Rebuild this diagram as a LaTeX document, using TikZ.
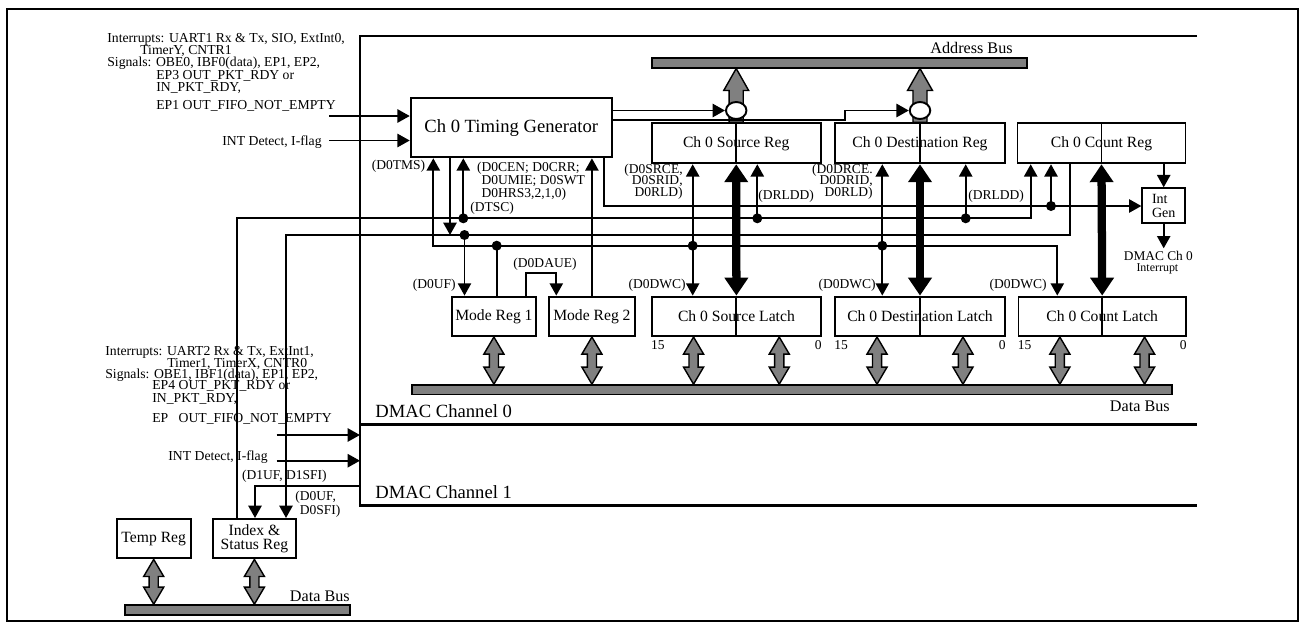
\documentclass[tikz,border=0pt]{standalone}
\usepackage{fontspec}
\setmainfont{Liberation Serif}
\usetikzlibrary{arrows.meta,calc,shapes.geometric}
\definecolor{Ink}{HTML}{000000}
\definecolor{BusGray}{HTML}{808080}

\begin{document}
\begin{tikzpicture}[x=0.02cm,y=-0.02cm,>={Triangle[length=7pt,width=7.5pt]},
  sig/.style={Ink,line width=1.1pt},
  chan/.style={Ink,line width=1.7pt},
  box/.style={draw=Ink,line width=1.1pt,fill=white,inner sep=0pt,minimum height=0.79cm,font=\fontsize{8.9}{10}\selectfont},
  bus/.style={draw=Ink,fill=BusGray,line width=0.9pt,inner sep=0pt,minimum height=0.19cm},
  lbl/.style={inner sep=0pt,font=\fontsize{7.7}{6.8}\selectfont},
  txt/.style={inner sep=0pt,anchor=west,font=\fontsize{7.8}{9}\selectfont},
  head/.style={inner sep=0pt,font=\fontsize{10.6}{12}\selectfont},
  datapath/.style={Ink,line width=4.7pt,arrows={Triangle[length=10.2pt,width=13pt]-Triangle[length=10.2pt,width=13pt]}},
  busarrow/.style={draw=Ink,fill=BusGray,line width=0.8pt,line join=miter,
    to path={let \p1=(\tikztostart),\p2=(\tikztotarget) in
      -- (\x1+5.7pt,\y1-9.7pt) -- (\x1+2.6pt,\y1-9.7pt) -- (\x1+2.6pt,\y2+9.7pt)
      -- (\x1+5.7pt,\y2+9.7pt) -- (\x1,\y2) -- (\x1-5.7pt,\y2+9.7pt)
      -- (\x1-2.6pt,\y2+9.7pt) -- (\x1-2.6pt,\y1-9.7pt) -- (\x1-5.7pt,\y1-9.7pt) -- cycle}},
  addrarrow/.style={draw=Ink,fill=BusGray,line width=0.8pt,line join=miter,
    to path={let \p1=(\tikztostart),\p2=(\tikztotarget) in
      -- (\x1+4pt,\y1) -- (\x1+4pt,\y2-12.5pt) -- (\x1+7.1pt,\y2-12.5pt) -- (\x1,\y2)
      -- (\x1-7.1pt,\y2-12.5pt) -- (\x1-4pt,\y2-12.5pt) -- (\x1-4pt,\y1) -- cycle}}]
\useasboundingbox (0,0) rectangle (1305,623);

% frames of the two channels
\draw[Ink,line width=1.1pt] (7,9) rectangle (1298,621);
\coordinate (chw) at (360,36);
\draw[chan] (1197,36) -- (chw) -- (360,505) -- (1197,505);
\draw[chan] (360,424.5) -- (1197,424.5);

% buses
\node[bus,minimum width=7.51cm] (abus) at (839.5,63) {};
\node[bus,minimum width=15.21cm] (dbus0) at (792,389.7) {};
\node[bus,minimum width=4.5cm,minimum height=0.2cm] (dbus1) at (237.5,610) {};
\node[anchor=east,inner sep=0pt,font=\fontsize{9.2}{10}\selectfont] (labus) at (1013,48) {Address Bus};
\node[anchor=east,inner sep=0pt,font=\fontsize{9.2}{10}\selectfont] (ldbus0) at (1170,406) {Data Bus};
\node[anchor=east,inner sep=0pt,font=\fontsize{9.2}{10}\selectfont] (ldbus1) at (350,596) {Data Bus};

% registers
\node[box,minimum width=4.02cm,minimum height=1.18cm,font=\fontsize{10.6}{12}\selectfont] (tgen) at (511.2,127.8) {Ch 0 Timing Generator};
\node[box,minimum width=3.38cm,minimum height=0.80cm] (srcreg) at (736.2,143.3) {Ch 0 Source Reg};
\node[box,minimum width=3.40cm,minimum height=0.80cm] (dstreg) at (920,143.3) {Ch 0 Destination Reg};
\node[box,minimum width=3.36cm,minimum height=0.80cm] (cntreg) at (1101.5,143.3) {Ch 0 Count Reg};
\node[box,minimum width=0.854cm,minimum height=0.69cm,align=left,font=\fontsize{8}{8}\selectfont] (intgen) at (1163.7,205.5) {Int\\Gen};
\node[box,minimum width=1.69cm] (mode1) at (493.9,316.3) {Mode Reg 1};
\node[box,minimum width=1.73cm] (mode2) at (591.9,316.3) {Mode Reg 2};
\node[box,minimum width=3.39cm] (srclatch) at (736.4,316.3) {Ch 0 Source Latch};
\node[box,minimum width=3.40cm] (dstlatch) at (920,316.3) {Ch 0 Destination Latch};
\node[box,minimum width=3.35cm] (cntlatch) at (1102.2,316.3) {Ch 0 Count Latch};
\node[box,minimum width=1.48cm] (tempreg) at (153.7,538.7) {Temp Reg};
\node[box,minimum width=1.67cm,align=center,font=\fontsize{8.9}{7.6}\selectfont] (idxreg) at (254.4,538.7) {Index \&\\Status Reg};

% address paths
\draw[addrarrow] (srcreg.north) to (srcreg.north |- abus.south);
\draw[addrarrow] (dstreg.north) to (dstreg.north |- abus.south);
\node[ellipse,draw=Ink,fill=white,line width=1.1pt,inner sep=0pt,minimum width=0.41cm,minimum height=0.34cm] (sel1) at (736.2,110.5) {};
\node[ellipse,draw=Ink,fill=white,line width=1.1pt,inner sep=0pt,minimum width=0.41cm,minimum height=0.34cm] (sel2) at (920,110.5) {};

% data bus paths
\coordinate (sl1) at ($(srclatch.south west)!0.25!(srclatch.south east)$);
\coordinate (sl2) at ($(srclatch.south west)!0.75!(srclatch.south east)$);
\coordinate (dl1) at ($(dstlatch.south west)!0.25!(dstlatch.south east)$);
\coordinate (dl2) at ($(dstlatch.south west)!0.75!(dstlatch.south east)$);
\coordinate (cl1) at ($(cntlatch.south west)!0.25!(cntlatch.south east)$);
\coordinate (cl2) at ($(cntlatch.south west)!0.75!(cntlatch.south east)$);
\draw[busarrow] (mode1.south) to (mode1.south |- dbus0.north);
\draw[busarrow] (mode2.south) to (mode2.south |- dbus0.north);
\draw[busarrow] (sl1) to (sl1 |- dbus0.north);
\draw[busarrow] (sl2) to (sl2 |- dbus0.north);
\draw[busarrow] (dl1) to (dl1 |- dbus0.north);
\draw[busarrow] (dl2) to (dl2 |- dbus0.north);
\draw[busarrow] (cl1) to (cl1 |- dbus0.north);
\draw[busarrow] (cl2) to (cl2 |- dbus0.north);
\draw[busarrow] (tempreg.south) to (tempreg.south |- dbus1.north);
\draw[busarrow] (idxreg.south) to (idxreg.south |- dbus1.north);

% byte split of reg and latch
\draw[sig] (srcreg.north) -- (srcreg.south);
\draw[sig] (dstreg.north) -- (dstreg.south);
\draw[sig] (cntreg.north) -- (cntreg.south);
\draw[sig] (srclatch.north) -- (srclatch.south);
\draw[sig] (dstlatch.north) -- (dstlatch.south);
\draw[sig] (cntlatch.north) -- (cntlatch.south);
\draw[datapath] (srcreg.south) -- (srclatch.north);
\draw[datapath] (dstreg.south) -- (dstlatch.north);
\draw[datapath] (cntreg.south) -- (cntlatch.north);

% timing generator in and out
\coordinate (in0a) at (329,116);
\coordinate (in0b) at (329,140.5);
\draw[sig,->] (in0a) -- (in0a -| tgen.west);
\draw[sig,->] (in0b) -- (in0b -| tgen.west);
\draw[sig,->] (tgen.east |- sel1.west) -- (sel1.west);
\draw[sig,->] ([yshift=4.3pt]tgen.east) -| (845,110.5) -- (sel2.west);

% control lines
\coordinate (tms) at (433.3,245.7);
\coordinate (dwc) at (1057.3,245.7);
\coordinate (dnc) at (450,235);
\coordinate (tsc) at (463.3,218.3);
\coordinate (uf) at (464.5,235);
\coordinate (m1) at (496.7,245.7);
\coordinate (daue) at (526,273.3);
\coordinate (daue2) at (556.3,273.3);
\coordinate (irq) at (604,206);
\coordinate (tscl) at (236.7,218.3);
\coordinate (tscr) at (1030.7,218.3);
\coordinate (ufl) at (286,235);
\coordinate (ufr) at (1070,235);
\coordinate (rld1) at (757.3,218.3);
\coordinate (rld2) at (965.7,218.3);
\coordinate (srcc) at (692.7,245.7);
\coordinate (dstc) at (882.3,245.7);
\coordinate (cntc) at (1051,206);
\coordinate (irqout) at (1163.7,248.3);
\coordinate (d1uf) at (255,485.7);
\coordinate (in1a) at (276.7,435);
\coordinate (in1b) at (276.7,460.7);

\draw[sig,<->] (tms |- tgen.south) -- (tms) -- (dwc) -- (dwc |- cntlatch.north);
\draw[sig,->] (dnc |- tgen.south) -- (dnc);
\draw[sig,->] (tsc) -- (tsc |- tgen.south);
\draw[sig,->] (uf) -- (uf |- mode1.north);
\draw[sig] (m1) -- (m1 |- mode1.north);
\draw[sig,->] (daue |- mode1.north) -- (daue) -- (daue2) -- (daue2 |- mode2.north);
\draw[sig,->] (mode2.north) -- (mode2.north |- tgen.south);
\draw[sig,->] (irq |- tgen.south) -- (irq) -- (irq -| intgen.west);
\draw[sig,->] (tscl |- idxreg.north) -- (tscl) -- (tscr) -- (tscr |- cntreg.south);
\draw[sig,<-] (ufl |- idxreg.north) -- (ufl) -- (ufr) -- (ufr |- cntreg.south);
\draw[sig,->] (rld1) -- (rld1 |- srcreg.south);
\draw[sig,->] (rld2) -- (rld2 |- dstreg.south);
\draw[sig,<->] (srcc |- srcreg.south) -- (srcc |- srclatch.north);
\draw[sig,<->] (dstc |- dstreg.south) -- (dstc |- dstlatch.north);
\draw[sig,->] (cntc) -- (cntc |- cntreg.south);
\draw[sig,->] (cntreg.south -| intgen.north) -- (intgen.north);
\draw[sig,->] (intgen.south) -- (irqout);
\draw[sig,->] (d1uf -| chw) -- (d1uf) -- (d1uf |- idxreg.north);
\draw[sig,->] (in1a) -- (in1a -| chw);
\draw[sig,->] (in1b) -- (in1b -| chw);
\fill[Ink] (tsc) circle (0.1cm);
\fill[Ink] (uf) circle (0.1cm);
\fill[Ink] (m1) circle (0.1cm);
\fill[Ink] (rld1) circle (0.1cm);
\fill[Ink] (rld2) circle (0.1cm);
\fill[Ink] (srcc) circle (0.1cm);
\fill[Ink] (dstc) circle (0.1cm);
\fill[Ink] (cntc) circle (0.1cm);

% control labels
\node[lbl,anchor=east] (ltms) at (425.5,166.7) {(D0TMS)};
\node[lbl,anchor=north west,align=left,font=\fontsize{7.7}{7.5}\selectfont] (lcen) at (476.7,161.5) {(D0CEN; D0CRR;\\\phantom{(}D0UMIE; D0SWT\\\phantom{(}D0HRS3,2,1,0)};
\node[lbl,anchor=west] (ltsc) at (470,208.3) {(DTSC)};
\node[lbl,anchor=east] (luf) at (456,285) {(D0UF)};
\node[lbl] (ldaue) at (545,264.3) {(D0DAUE)};
\node[lbl,anchor=east,align=right] (lsrce) at (683,181.7) {(D0SRCE,\\D0SRID,\\D0RLD)};
\node[lbl,anchor=west] (lrld1) at (758,196.7) {(DRLDD)};
\node[lbl,anchor=east] (ldwc1) at (686,285) {(D0DWC)};
\node[lbl,anchor=east,align=right] (ldrce) at (873,181.7) {(D0DRCE.\\D0DRID,\\D0RLD)};
\node[lbl,anchor=west] (lrld2) at (968,196.7) {(DRLDD)};
\node[lbl,anchor=east] (ldwc2) at (876,285) {(D0DWC)};
\node[lbl,anchor=east] (ldwc3) at (1047,285) {(D0DWC)};
\node[lbl,font=\fontsize{7.6}{8}\selectfont] (lirq) at (1158.4,255.8) {DMAC Ch 0};
\node[lbl,font=\fontsize{6.8}{7}\selectfont] (lirq2) at (1157.4,268.6) {Interrupt};
\node[lbl,anchor=west] (ld1uf) at (241.7,476) {(D1UF, D1SFI)};
\node[lbl,anchor=west,align=left,font=\fontsize{7.7}{6}\selectfont] (ld0uf) at (295,504.7) {(D0UF,\\\phantom{(}D0SFI)};
\node[lbl,anchor=north west] (b15s) at ([yshift=-2pt]srclatch.south west) {15};
\node[lbl,anchor=north east] (b0s) at ([yshift=-2pt]srclatch.south east) {0};
\node[lbl,anchor=north west] (b15d) at ([yshift=-2pt]dstlatch.south west) {15};
\node[lbl,anchor=north east] (b0d) at ([yshift=-2pt]dstlatch.south east) {0};
\node[lbl,anchor=north west] (b15c) at ([yshift=-2pt]cntlatch.south west) {15};
\node[lbl,anchor=north east] (b0c) at ([yshift=-2pt]cntlatch.south east) {0};

% channel names
\node[head,anchor=west] (ch0) at (375,410.7) {DMAC Channel 0};
\node[head,anchor=west] (ch1) at (375,491.7) {DMAC Channel 1};

% request sources
\node[txt] (src0a) at (107,39.5) {Interrupts: UART1 Rx \& Tx, SIO, ExtInt0,};
\node[txt] (src0b) at (140,51) {TimerY, CNTR1};
\node[txt] (src0c) at (107,63.3) {Signals: OBE0, IBF0(data), EP1, EP2,};
\node[txt] (src0d) at (156,75.5) {EP3 OUT\_PKT\_RDY or};
\node[txt] (src0e) at (156,88.3) {IN\_PKT\_RDY,};
\node[txt] (src0f) at (156,105.7) {EP1 OUT\_FIFO\_NOT\_EMPTY};
\node[txt] (src0g) at (222,142) {INT Detect, I-flag};
\node[txt] (src1a) at (105,352.5) {Interrupts: UART2 Rx \& Tx, ExtInt1,};
\node[txt] (src1b) at (167,364) {Timer1, TimerX, CNTR0};
\node[txt] (src1c) at (105,375.5) {Signals: OBE1, IBF1(data), EP1, EP2,};
\node[txt] (src1d) at (152,386.3) {EP4 OUT\_PKT\_RDY or};
\node[txt] (src1e) at (152,398.8) {IN\_PKT\_RDY,};
\node[txt] (src1f) at (152,419.3) {EP\ \ \ OUT\_FIFO\_NOT\_EMPTY};
\node[txt] (src1g) at (168,457.3) {INT Detect, I-flag};
\end{tikzpicture}
\end{document}
